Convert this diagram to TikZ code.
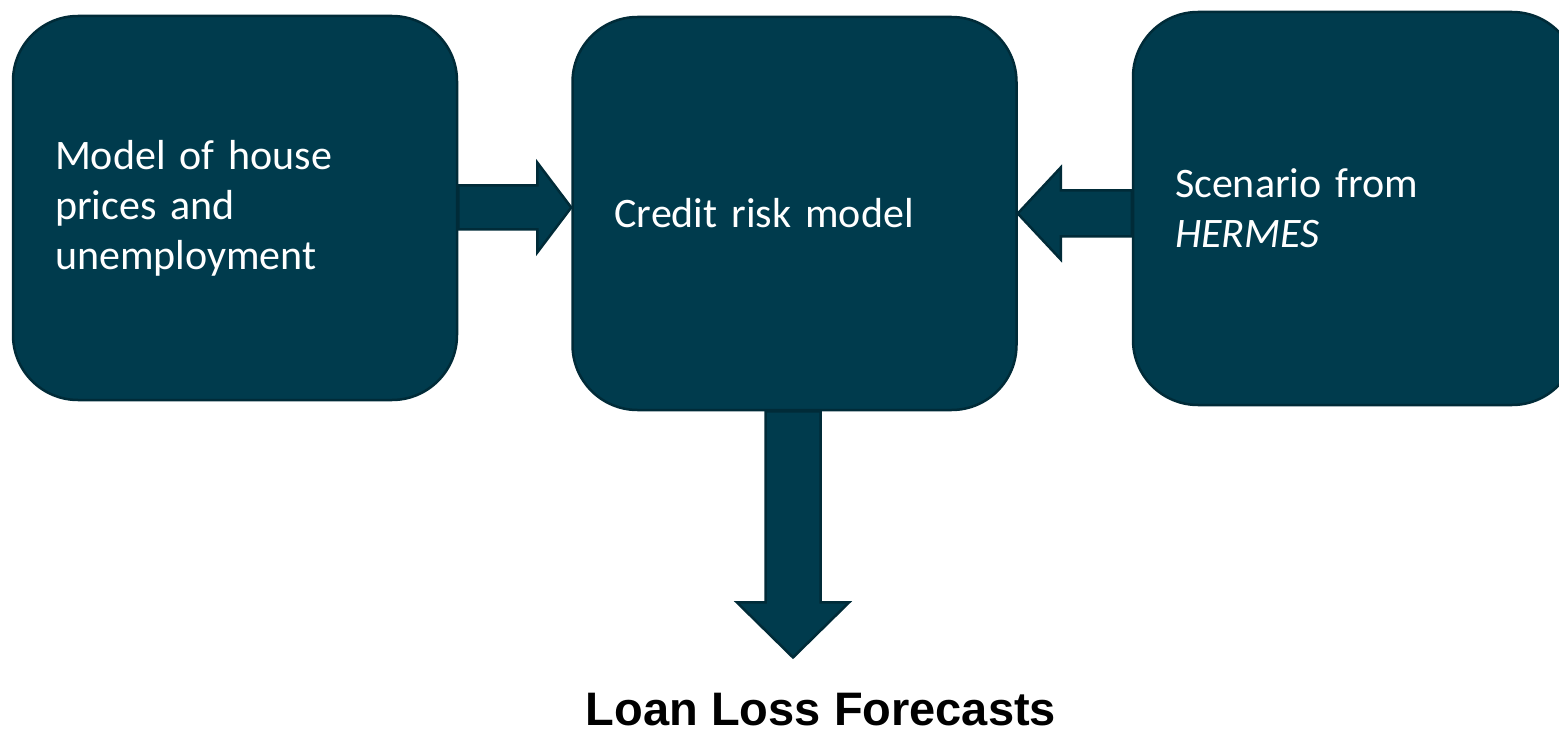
\documentclass[tikz,border=0pt]{standalone}
\usepackage{fontspec}
\setmainfont{Carlito}[WordSpace=0.6]
\newfontfamily\captionfont{Liberation Sans}
\usetikzlibrary{calc}

\definecolor{boxfill}{HTML}{003B4D}
\definecolor{boxline}{HTML}{002B38}

\tikzset{
  block/.style={draw=boxline, fill=boxfill, line width=2.5pt,
    rounded corners=65pt, text=white, align=left,
    text width=360pt, inner xsep=42pt, inner ysep=0pt,
    font=\fontsize{42}{50}\selectfont},
  fatarrow/.style={draw=boxline, fill=boxfill, line width=2.5pt, line join=miter},
}

% wide arrow: #1 tail, #2 tip, #3 half shaft, #4 half head, #5 head length
\newcommand\blockarrow[5]{%
  \coordinate (hb) at ($(#2)!#5!(#1)$);
  \draw[fatarrow] ($(#1)!#3!90:(#2)$) -- ($(hb)!#3!90:(#2)$)
    -- ($(hb)!#4!90:(#2)$) -- (#2) -- ($(hb)!#4!-90:(#2)$)
    -- ($(hb)!#3!-90:(#2)$) -- ($(#1)!#3!-90:(#2)$) -- cycle;
}

\begin{document}
\begin{tikzpicture}[x=1pt, y=-1pt]
  \clip (0,0) rectangle (1559,730);

  % the three models
  \node[block, minimum height=384pt] (model) at (235,208)
    {Model of house\\prices and\\unemployment};
  \node[block, minimum height=393pt] (credit) at (794.5,213.5)
    {Credit risk model};
  \node[block, minimum height=393pt] (scenario) at (1355,208.5)
    {Scenario from\\\textit{HERMES}};

  % result
  \node[inner sep=0pt, anchor=base,
    font=\captionfont\fontsize{47}{55}\selectfont\bfseries] (loss) at (821,725)
    {Loan Loss Forecasts};

  % inputs into the credit risk model
  \coordinate (inTip) at ($(credit.west)+(0,-6)$);
  \blockarrow{model.east |- inTip}{inTip}{22pt}{45pt}{34pt}
  \blockarrow{scenario.west |- credit.east}{credit.east}{23pt}{46pt}{43pt}

  % output
  \coordinate (outTip) at ($(loss.north)+(-28,-35)$);
  \blockarrow{credit.south -| outTip}{outTip}{27.5pt}{56pt}{55pt}
\end{tikzpicture}
\end{document}
